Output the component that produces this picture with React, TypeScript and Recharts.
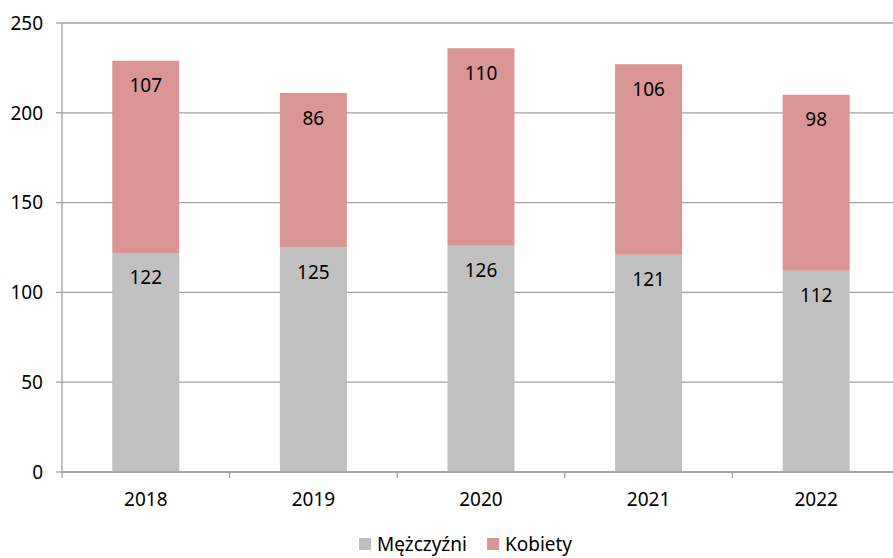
import React from 'react';
import { BarChart, Bar, XAxis, YAxis, CartesianGrid, Legend, LabelList } from 'recharts';

const years = ['2018', '2019', '2020', '2021', '2022'];
const men = [122, 125, 126, 121, 112];
const women = [107, 86, 110, 106, 98];
const yTicks = [0, 50, 100, 150, 200, 250];

const data = years.map((year, i) => ({ year, men: men[i], women: women[i] }));

const FONT = '"Noto Sans", "Open Sans", sans-serif';
const AXIS = '#A0A0A0';
const FS = 19;
const X_TICK_SIZE = 6;
const X_TICK_MARGIN = 15;

const legendItems = [
    { label: 'Mężczyźni', color: '#C0C0C0' },
    { label: 'Kobiety', color: '#D99694' },
];

const LegendContent = () => (
    <div style={{ display: 'flex', justifyContent: 'center', alignItems: 'center', gap: 20 }}>
        {legendItems.map((item) => (
            <div key={item.label} style={{ display: 'flex', alignItems: 'center' }}>
                <span style={{ width: 12, height: 12, background: item.color, marginRight: 6 }} />
                <span style={{ fontSize: FS, color: '#000', lineHeight: '18px' }}>{item.label}</span>
            </div>
        ))}
    </div>
);

// category label plus a tick mark on the left edge of each band (Excel style)
const YearTick = (props: any) => {
    const { x, y, payload } = props;
    const axisY = y - X_TICK_SIZE - X_TICK_MARGIN;
    const edgeX = x - (payload.offset || 0);
    return (
        <g>
            <line x1={edgeX} x2={edgeX} y1={axisY} y2={axisY + X_TICK_SIZE} stroke={AXIS} strokeWidth={1.3} />
            <text x={x} y={y} dy="0.71em" textAnchor="middle" fill="#000" fontSize={FS} fontFamily={FONT}>
                {payload.value}
            </text>
        </g>
    );
};

export default function App() {
    return (
        <div style={{ position: 'absolute', left: 0, top: 0, width: 893, height: 558, overflow: 'hidden', background: '#fff', fontFamily: FONT }}>
            <BarChart
                width={910}
                height={558}
                data={data}
                margin={{ top: 23, right: 10, bottom: 56, left: 0 }}
                barCategoryGap="30%"
            >
                <CartesianGrid horizontal vertical={false} stroke={AXIS} strokeWidth={1.3} />
                <XAxis
                    dataKey="year"
                    axisLine={{ stroke: AXIS, strokeWidth: 1.3 }}
                    tickLine={false}
                    tickSize={X_TICK_SIZE}
                    tickMargin={X_TICK_MARGIN}
                    tick={<YearTick />}
                    height={30}
                />
                <YAxis
                    domain={[0, 250]}
                    ticks={yTicks}
                    width={62}
                    axisLine={{ stroke: AXIS, strokeWidth: 1.3 }}
                    tickLine={{ stroke: AXIS, strokeWidth: 1.3 }}
                    tickSize={6}
                    tickMargin={13}
                    tick={{ fill: '#000', fontSize: FS, fontFamily: FONT }}
                />
                <Legend
                    verticalAlign="middle"
                    align="center"
                    content={<LegendContent />}
                    wrapperStyle={{ left: 19, top: 535, width: 893 }}
                />
                <Bar dataKey="men" name="Mężczyźni" stackId="a" fill="#C0C0C0" isAnimationActive={false}>
                    <LabelList dataKey="men" position="insideTop" offset={18} fill="#000" fontSize={FS} fontFamily={FONT} />
                </Bar>
                <Bar dataKey="women" name="Kobiety" stackId="a" fill="#D99694" isAnimationActive={false}>
                    <LabelList dataKey="women" position="insideTop" offset={18} fill="#000" fontSize={FS} fontFamily={FONT} />
                </Bar>
            </BarChart>
        </div>
    );
}
